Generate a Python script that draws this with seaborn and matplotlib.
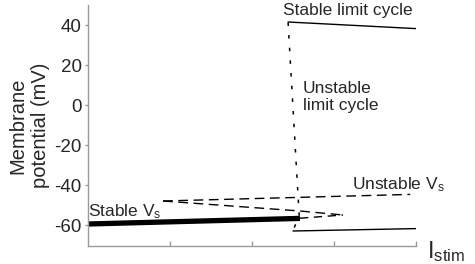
import matplotlib
matplotlib.use("Agg")
import matplotlib.pyplot as plt
import seaborn as sns
import pandas as pd

# ---- data ----
stable_rest_I = [0.0, 2.585]
stable_rest_V = [-59.5, -56.7]

unstable_rest_I = [0.915, 3.93]
unstable_rest_V = [-48.0, -44.7]

saddle_I = [0.915, 2.585, 3.11]
saddle_V = [-48.0, -53.0, -55.0]

hopf_branch_I = [2.585, 3.11]
hopf_branch_V = [-56.6, -55.0]

unstable_lc_I = [2.44, 2.575, 2.50]
unstable_lc_V = [41.3, -55.0, -63.0]

stable_lc_max_I = [2.44, 4.0]
stable_lc_max_V = [41.5, 38.2]

stable_lc_min_I = [2.50, 4.0]
stable_lc_min_V = [-63.0, -61.8]

y_ticks = [40, 20, 0, -20, -40, -60]
y_tick_labels = ["40", "20", "0", "-20", "-40", "-60"]
x_ticks = [1, 2, 3, 4]

sns.set_style("white")
plt.rcParams["font.family"] = ["Liberation Sans", "DejaVu Sans"]
plt.rcParams["mathtext.fontset"] = "custom"
plt.rcParams["mathtext.rm"] = "Liberation Sans"
plt.rcParams["mathtext.it"] = "Liberation Sans"
plt.rcParams["axes.unicode_minus"] = False

fig = plt.figure(figsize=(4.75, 2.64), dpi=100)
ax = fig.add_axes([88 / 475, 1 - 246 / 264, (416 - 88) / 475, (246 - 5) / 264])


def draw(I, V, **kw):
    df = pd.DataFrame({"I": I, "V": V})
    sns.lineplot(data=df, x="I", y="V", ax=ax, sort=False, estimator=None,
                 color="black", **kw)


draw(stable_rest_I, stable_rest_V, linewidth=3.8, solid_capstyle="butt")
draw(unstable_rest_I, unstable_rest_V, linewidth=1.0, dashes=(7, 4))
draw(saddle_I, saddle_V, linewidth=1.0, dashes=(7, 4))
draw(hopf_branch_I, hopf_branch_V, linewidth=1.0, dashes=(6, 4))
draw(unstable_lc_I, unstable_lc_V, linewidth=1.1, dashes=(2.3, 6))
draw(stable_lc_max_I, stable_lc_max_V, linewidth=1.0)
draw(stable_lc_min_I, stable_lc_min_V, linewidth=1.0)

ax.set_xlim(0, 4)
ax.set_ylim(-70.5, 50)
ax.set_yticks(y_ticks)
ax.set_yticklabels(y_tick_labels)
ax.set_xticks(x_ticks)
ax.set_xticklabels([])
ax.set_xlabel("")
ax.set_ylabel("Membrane\npotential (mV)", fontsize=14.5, labelpad=3, linespacing=1.25)

for s in ["top", "right"]:
    ax.spines[s].set_visible(False)
for s in ["left", "bottom"]:
    ax.spines[s].set_color("#9a9a9a")
    ax.spines[s].set_linewidth(1.0)

ax.tick_params(axis="y", direction="out", length=2.5, width=1.0, color="#9a9a9a",
               labelsize=13.5, pad=2, left=True)
ax.tick_params(axis="x", direction="in", length=3.5, width=1.0, color="#9a9a9a",
               bottom=True)

ax.text(2.38, 47, "Stable limit cycle", fontsize=12.5, va="center", ha="left")
ax.text(2.62, 12, "Unstable\nlimit cycle", fontsize=12.5, va="top", ha="left",
        linespacing=1.2)
ax.text(3.22, -42.3, r"Unstable $\mathregular{V_s}$", fontsize=12.5,
        va="baseline", ha="left")
ax.text(0.0, -55.8, r"Stable $\mathregular{V_s}$", fontsize=12.5,
        va="baseline", ha="left")
ax.text(4.13, -76.5, r"$\mathregular{I_{stim}}$", fontsize=17,
        va="baseline", ha="left", clip_on=False)

fig.savefig("out.png", dpi=100)
